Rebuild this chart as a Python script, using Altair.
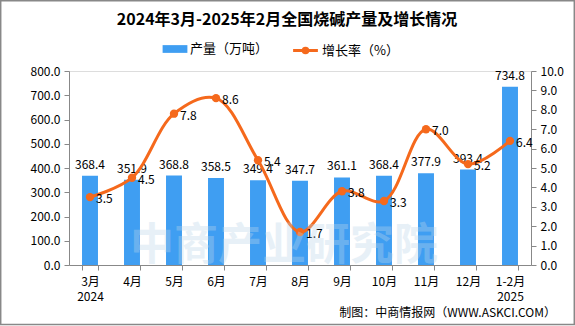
import altair as alt
import pandas as pd

months = ["3月\n2024", "4月", "5月", "6月", "7月", "8月", "9月", "10月", "11月", "12月", "1-2月\n2025"]
output = [368.4, 351.9, 368.8, 358.5, 349.4, 347.7, 361.1, 368.4, 377.9, 393.4, 734.8]
growth = [3.5, 4.5, 7.8, 8.6, 5.4, 1.7, 3.8, 3.3, 7.0, 5.2, 6.4]

df = pd.DataFrame({"month": months, "output": output, "growth": growth})

FONT = "Noto Sans CJK SC"
BAR = "#3f9ef2"
LINE = "#f5691c"

x = alt.X("month:N", sort=months, title=None,
          scale=alt.Scale(paddingInner=0.62, paddingOuter=0.31),
          axis=alt.Axis(labelAngle=0, labelExpr="split(datum.label, '\\n')",
                        tickBand="extent", labelFontSize=12, labelPadding=6,
                        domainColor="#888888", tickColor="#888888", tickSize=5,
                        labelColor="#000000", labelFont=FONT, labelLineHeight=15))

yl = alt.Y("output:Q", title=None,
           scale=alt.Scale(domain=[0, 800]),
           axis=alt.Axis(values=list(range(0, 801, 100)), format=".1f", grid=False,
                         domainColor="#888888", tickColor="#888888", tickSize=5,
                         labelFontSize=12, labelColor="#000000", labelFont=FONT, labelPadding=4))

yr = alt.Y("growth:Q", title=None, scale=alt.Scale(domain=[0, 10]),
           axis=alt.Axis(orient="right", values=list(range(0, 11)), format=".1f", grid=False,
                         domainColor="#888888", tickColor="#888888", tickSize=5,
                         labelFontSize=12, labelColor="#000000", labelFont=FONT, labelPadding=4))

bars = alt.Chart(df).mark_bar(color=BAR).encode(
    x=x,
    y=yl,
    fill=alt.Fill("s1:N", scale=alt.Scale(domain=["产量（万吨）"], range=[BAR]),
                  legend=alt.Legend(orient="none", legendX=98, legendY=-30, title=None,
                                    symbolType="M-1.6,-0.5H1.6V0.5H-1.6Z", symbolSize=240,
                                    symbolStrokeWidth=0, labelOffset=7,
                                    labelFontSize=13, labelFont=FONT, labelColor="#000000")),
).transform_calculate(s1="'产量（万吨）'")

bar_text = alt.Chart(df).mark_text(dy=-11, fontSize=12, font=FONT, color="#000000").encode(
    x=alt.X("month:N", sort=months),
    y=yl,
    text=alt.Text("output:Q", format=".1f"),
)

line = alt.Chart(df).mark_line(interpolate="catmull-rom", strokeWidth=3).encode(
    x=alt.X("month:N", sort=months),
    y=yr,
    stroke=alt.Stroke("s2:N", scale=alt.Scale(domain=["增长率（%）"], range=[LINE]),
                      legend=alt.Legend(orient="none", legendX=227, legendY=-30, title=None,
                                        symbolType="M-1.6,0H1.6M0.3,0A0.3,0.3 0 1,1 -0.3,0A0.3,0.3 0 1,1 0.3,0",
                                        symbolSize=240, symbolStrokeWidth=3, symbolFillColor=LINE,
                                        labelOffset=7,
                                        labelFontSize=13, labelFont=FONT, labelColor="#000000")),
).transform_calculate(s2="'增长率（%）'")

pts = alt.Chart(df).mark_point(filled=True, size=70, color=LINE, opacity=1).encode(
    x=alt.X("month:N", sort=months),
    y=yr,
)

line_text = alt.Chart(df).mark_text(align="left", baseline="middle", dx=6, dy=2,
                                    fontSize=12, font=FONT, color="#000000").encode(
    x=alt.X("month:N", sort=months),
    y=yr,
    text=alt.Text("growth:Q", format=".1f"),
)

wm = alt.Chart(pd.DataFrame({"t": ["中商产业研究院"]})).mark_text(
    fontSize=44, font=FONT, fontWeight="bold", color="#bcd6ea", opacity=0.35, align="center", baseline="middle"
).encode(x=alt.value(215), y=alt.value(176), text="t:N")

src = alt.Chart(pd.DataFrame({"t": ["制图：中商情报网（WWW.ASKCI.COM）"]})).mark_text(
    fontSize=12, font=FONT, color="#000000", align="right", baseline="middle"
).encode(x=alt.value(487), y=alt.value(242), text="t:N")

ttl = alt.Chart(pd.DataFrame({"t": ["2024年3月-2025年2月全国烧碱产量及增长情况"]})).mark_text(
    fontSize=16, font=FONT, fontWeight="bold", color="#000000", align="center", baseline="middle"
).encode(x=alt.value(218), y=alt.value(-51), text="t:N")

frame = alt.Chart(pd.DataFrame({"a": [0]})).mark_rect(fill=None, stroke="#888888", strokeWidth=1.5).encode(
    x=alt.value(-68.3), x2=alt.value(505.3), y=alt.value(-70.3), y2=alt.value(253.5)
)

left = alt.layer(bars, bar_text)
right = alt.layer(line, pts, line_text)

chart = alt.layer(left, right, wm, src, ttl, frame).resolve_scale(y="independent", fill="independent", stroke="independent").properties(
    width=462, height=194,
    autosize=alt.AutoSizeParams(type="none"),
    padding={"left": 69, "top": 71, "right": 44, "bottom": 61},
).configure_view(stroke=None).configure(background="white")

chart.save("out.html", embed_options={"renderer": "svg", "actions": False})
